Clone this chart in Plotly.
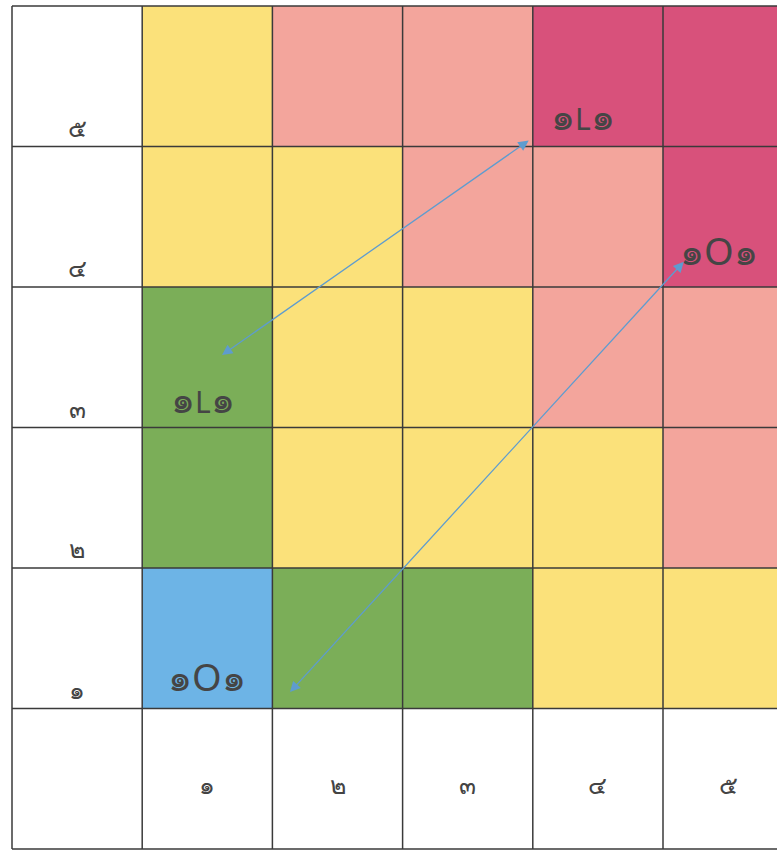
import plotly.graph_objects as go

# ---- data ----
thai_digits = ["๑", "๒", "๓", "๔", "๕"]          # tick labels 1..5
col_centers = [1.5, 2.5, 3.5, 4.5, 5.5]
row_centers = [1.5, 2.5, 3.5, 4.5, 5.5]
# risk level per cell (rows bottom->top, columns left->right)
levels = [
    [0, 1, 1, 2, 2],
    [1, 2, 2, 2, 3],
    [1, 2, 2, 3, 3],
    [2, 2, 3, 3, 4],
    [2, 3, 3, 4, 4],
]
level_colors = ["#6DB4E6", "#7BAE58", "#FBE17A", "#F3A59C", "#D8517B"]

# text markers placed in cells: (digit, middle letter, digit)
mark_mid = ["L", "O", "L", "O"]
mark_x = [4.385, 5.43, 1.467, 1.50]
mark_y = [5.225, 4.26, 3.21, 1.23]

# double-headed arrows (start -> end)
arrow_x0 = [3.98, 5.17]
arrow_y0 = [5.05, 4.19]
arrow_x1 = [1.613, 2.135]
arrow_y1 = [3.516, 1.117]

# ---- figure ----
n = len(level_colors)
cscale = []
for i, c in enumerate(level_colors):
    cscale.append([i / n, c])
    cscale.append([(i + 1) / n, c])

fig = go.Figure()
fig.add_trace(go.Heatmap(
    x=col_centers, y=row_centers, z=levels,
    colorscale=cscale, zmin=-0.5, zmax=n - 0.5,
    showscale=False, hoverinfo="skip",
))

grid_color = "#3a3a3a"
shapes = []
for i in range(0, 7):
    if i <= 5:
        shapes.append(dict(type="line", xref="x", yref="y", x0=i, x1=i, y0=0, y1=6,
                           line=dict(color=grid_color, width=1.5)))
    shapes.append(dict(type="line", xref="x", yref="y", x0=0, x1=6.5, y0=i, y1=i,
                       line=dict(color=grid_color, width=1.5)))

font_fam = "Noto Sans, DejaVu Sans"
label_color = "#444444"
annotations = []
# row labels (left column)
for i, t in enumerate(thai_digits):
    annotations.append(dict(x=0.5, y=i + 1 + 0.14, xref="x", yref="y", text=t,
                            showarrow=False, font=dict(size=25, color=label_color,
                                                       family=font_fam)))
# column labels (bottom row)
for i, t in enumerate(thai_digits):
    annotations.append(dict(x=i + 1.5, y=0.46, xref="x", yref="y", text=t,
                            showarrow=False, font=dict(size=25, color=label_color,
                                                       family=font_fam)))
# cell markers
d1 = thai_digits[0]
for m, x, y in zip(mark_mid, mark_x, mark_y):
    msize = 30 if m == "L" else 38
    txt = (f"<span style='font-size:38px'>{d1}</span>"
           f"<span style='font-size:{msize}px'>{m}</span>"
           f"<span style='font-size:38px'>{d1}</span>")
    annotations.append(dict(x=x, y=y, xref="x", yref="y", text=txt, showarrow=False,
                            font=dict(size=30, color="#454545", family=font_fam)))
# arrows
for x0, y0, x1, y1 in zip(arrow_x0, arrow_y0, arrow_x1, arrow_y1):
    annotations.append(dict(x=x1, y=y1, ax=x0, ay=y0, xref="x", yref="y",
                            axref="x", ayref="y", text="", showarrow=True,
                            arrowhead=2, startarrowhead=2, arrowside="end+start",
                            arrowsize=1.6, startarrowsize=1.6, arrowwidth=1.3,
                            arrowcolor="#5E9CCF", standoff=0, startstandoff=0))

fig.update_layout(
    width=777, height=851,
    margin=dict(l=0, r=0, t=0, b=0),
    paper_bgcolor="white", plot_bgcolor="white",
    xaxis=dict(range=[-12 / 130.2, 765 / 130.2], showgrid=False, zeroline=False,
               showticklabels=False, ticks="", fixedrange=True),
    yaxis=dict(range=[-2 / 140.5, 849 / 140.5], showgrid=False, zeroline=False,
               showticklabels=False, ticks="", fixedrange=True),
    shapes=shapes, annotations=annotations, showlegend=False,
)

fig.write_html("out.html", config={"displayModeBar": False},
               post_script="document.body.style.margin='0';document.body.style.overflow='hidden';")
